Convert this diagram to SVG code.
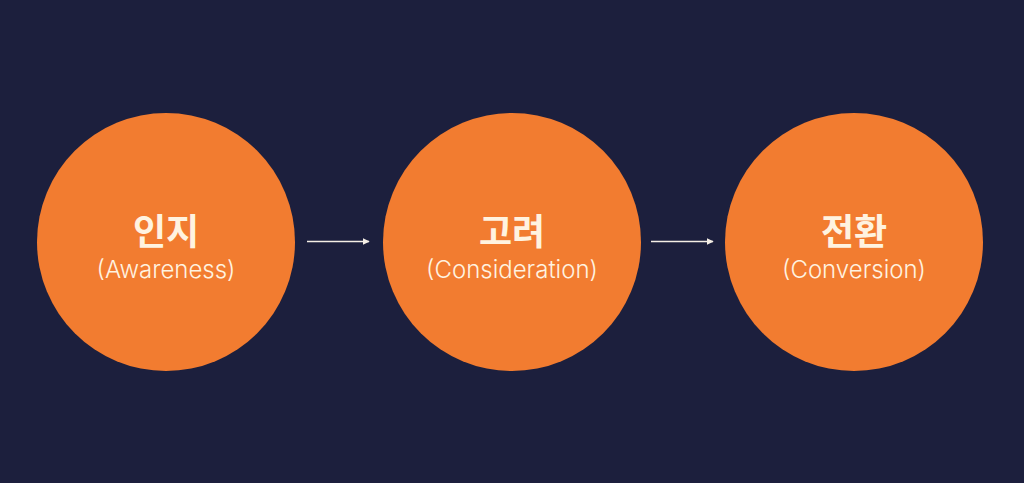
<svg xmlns="http://www.w3.org/2000/svg" width="1024" height="483" viewBox="0 0 1024 483">
<defs>
<marker id="ah" viewBox="0 0 10 10" refX="9" refY="5" markerWidth="7" markerHeight="7" markerUnits="userSpaceOnUse" orient="auto"><path d="M0,0 L10,5 L0,10 z" fill="#F4EEE6"/></marker>
<style>
.c{fill:#F27C30}
.t{font-family:"Noto Sans CJK KR","Noto Sans",sans-serif;font-weight:700;font-size:36px;fill:#FFF3E0;text-anchor:middle}
.s{font-family:Inter,"Liberation Sans",sans-serif;font-weight:300;font-size:24px;fill:#FFF3E0;text-anchor:middle}
.l{stroke:#F4EEE6;stroke-width:1.3;fill:none;marker-end:url(#ah)}
</style>
</defs>
<rect width="1024" height="483" fill="#1C1F3D"/>
<g id="connectors">
<line class="l" x1="307" y1="241.5" x2="369" y2="241.5"/>
<line class="l" x1="651" y1="241.5" x2="713" y2="241.5"/>
</g>
<g id="n1"><circle class="c" cx="166" cy="242" r="129"/><text class="t" x="166" y="245">인지</text><text class="s" x="166" y="278">(Awareness)</text></g>
<g id="n2"><circle class="c" cx="512" cy="242" r="129"/><text class="t" x="512" y="245">고려</text><text class="s" x="512" y="278">(Consideration)</text></g>
<g id="n3"><circle class="c" cx="854" cy="242" r="129"/><text class="t" x="854" y="245">전환</text><text class="s" x="854" y="278">(Conversion)</text></g>
</svg>
